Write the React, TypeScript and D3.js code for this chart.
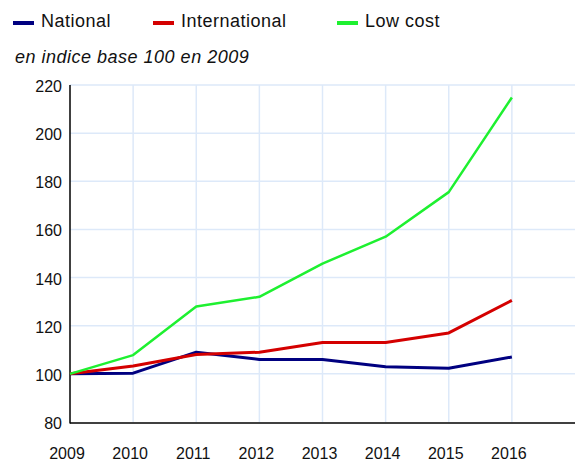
import React from 'react';
import * as d3 from 'd3';

const years = [2009, 2010, 2011, 2012, 2013, 2014, 2015, 2016];
const national = [100, 100.3, 109, 106, 106, 103, 102.3, 107];
const international = [100, 103.3, 108, 109, 113, 113, 117, 130.5];
const lowCost = [100, 107.8, 128, 132, 145.8, 157, 175.5, 214.8];
const yTicks = [80, 100, 120, 140, 160, 180, 200, 220];

const seriesList = [
  { name: 'National', color: '#000080', width: 3, values: national, legendX: 13 },
  { name: 'International', color: '#d40000', width: 3, values: international, legendX: 153 },
  { name: 'Low cost', color: '#1ef030', width: 2.5, values: lowCost, legendX: 337 },
];

const W = 581;
const H = 461;
const margin = { top: 85, right: 6, bottom: 39, left: 70 };
const font = '"Liberation Sans", Arial, sans-serif';

const App = () => {
  const x = d3.scaleLinear().domain([2009, 2017]).range([margin.left, W - margin.right]);
  const y = d3.scaleLinear().domain([80, 220]).range([H - margin.bottom, margin.top]);

  const line = (vals: number[]) =>
    d3.line<number>()
      .x((_, i) => x(years[i]))
      .y(d => y(d))(vals) || '';

  return (
    <svg width={W} height={H} style={{ position: 'absolute', left: 0, top: 0, background: '#fff' }}>
      {/* grid */}
      {yTicks.filter(t => t > 80).map(t => (
        <line key={'h' + t} x1={x(2009)} x2={x(2017)} y1={y(t)} y2={y(t)} stroke="#dde9f9" strokeWidth={1.5} />
      ))}
      {years.filter(yr => yr > 2009).map(yr => (
        <line key={'v' + yr} x1={x(yr)} x2={x(yr)} y1={y(220)} y2={y(80)} stroke="#dde9f9" strokeWidth={1.5} />
      ))}

      {/* axes */}
      <line x1={x(2009)} x2={x(2017)} y1={y(80) + 1} y2={y(80) + 1} stroke="#000" strokeWidth={1.5} />
      <line x1={x(2009)} x2={x(2009)} y1={y(220)} y2={y(80) + 1.5} stroke="#000" strokeWidth={1.5} />

      {yTicks.map(t => (
        <text key={'yl' + t} x={x(2009) - 8} y={y(t) + 7} textAnchor="end" fontFamily={font} fontSize={16} fill="#111">
          {t}
        </text>
      ))}
      {years.map(yr => (
        <text key={'xl' + yr} x={x(yr) - 3} y={459} textAnchor="middle" fontFamily={font} fontSize={16} fill="#111">
          {yr}
        </text>
      ))}

      {/* series */}
      {seriesList.map(s => (
        <path key={s.name} d={line(s.values)} fill="none" stroke={s.color} strokeWidth={s.width} strokeLinejoin="round" />
      ))}

      {/* legend */}
      {seriesList.map(s => (
        <g key={'lg' + s.name}>
          <rect x={s.legendX} y={21} width={21} height={4} fill={s.color} />
          <text x={s.legendX + 28} y={27} fontFamily={font} fontSize={18} letterSpacing={0.5} fill="#111">{s.name}</text>
        </g>
      ))}

      <text x={15} y={63} fontFamily={font} fontSize={18} letterSpacing={0.5} fontStyle="italic" fill="#111">
        en indice base 100 en 2009
      </text>
    </svg>
  );
};

export default App;
